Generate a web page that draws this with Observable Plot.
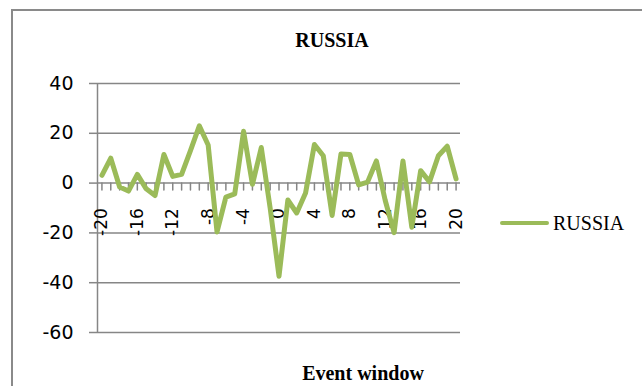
<!DOCTYPE html>
<html>
<head>
<meta charset="utf-8">
<script src="https://cdn.jsdelivr.net/npm/d3@7"></script>
<script src="https://cdn.jsdelivr.net/npm/@observablehq/plot@0.6"></script>
<style>
  html, body { margin: 0; padding: 0; background: #fff; }
  #wrap { position: relative; width: 642px; height: 386px; overflow: hidden; background: #fff; }
  #border { position: absolute; left: 11px; top: 9px; width: 700px; height: 500px;
            border-left: 2px solid #8a8a8a; border-top: 2px solid #8a8a8a; box-sizing: border-box; }
  .lbl { position: absolute; white-space: nowrap; font-family: "Liberation Serif", "Times New Roman", serif; font-size: 20px; color: #000; line-height: 1; }
  #chart { position: absolute; left: 0; top: 0; }
</style>
</head>
<body>
<div id="wrap">
  <div id="border"></div>
  <div id="chart"></div>
  <div class="lbl" id="title" style="font-weight:bold;"></div>
  <div class="lbl" id="xlabel" style="font-weight:bold;"></div>
  <div id="legendLine" style="position:absolute;left:500px;top:221px;width:49px;height:4px;background:#9BBB59;border-radius:2px;"></div>
  <div class="lbl" id="legendText"></div>
</div>
<script>
const titleText = "RUSSIA";
const xTitle = "Event window";
const seriesName = "RUSSIA";
const eventWindow = [-20,-19,-18,-17,-16,-15,-14,-13,-12,-11,-10,-9,-8,-7,-6,-5,-4,-3,-2,-1,0,1,2,3,4,5,6,7,8,9,10,11,12,13,14,15,16,17,18,19,20];
const russia = [3.1,10,-1.6,-3.2,3.5,-2.3,-5,11.5,2.7,3.5,13,23,15.3,-19.6,-5.6,-4.3,20.8,-0.5,14.3,-10,-37.4,-6.8,-12,-4,15.5,11,-13,11.7,11.5,-0.7,0.4,8.9,-7,-19.9,8.9,-17.7,5.0,0.5,11,14.8,1.7];
const yTicks = [-60,-40,-20,0,20,40];
const xTickLabels = [-20,-16,-12,-8,-4,0,4,8,12,16,20];

const data = eventWindow.map((w, i) => ({w, v: russia[i]}));
const xDomain = [d3.min(eventWindow) - 0.5, d3.max(eventWindow) + 0.5];
const grey = "#868686";

const tickShape = { draw(context, l) { context.moveTo(0, 0); context.lineTo(0, -l); } };

const plot = Plot.plot({
  width: 642,
  height: 386,
  marginLeft: 97,
  marginRight: 182,
  marginTop: 83,
  marginBottom: 54,
  style: { fontFamily: "DejaVu Sans", background: "transparent" },
  x: { domain: xDomain, axis: null },
  y: { domain: [-60, 40], axis: null },
  marks: [
    Plot.gridY(yTicks, { stroke: grey, strokeOpacity: 1, strokeWidth: 1.5 }),
    Plot.axisY(yTicks, { tickSize: 8, tickPadding: 16, stroke: grey, strokeWidth: 1.5, fill: "#000", fontSize: 19, label: null, tickFormat: d => String(d) }),
    Plot.ruleX([xDomain[0]], { stroke: grey, strokeWidth: 1.5 }),
    Plot.vector(eventWindow, { x: d => d, y: 0, length: 7, rotate: 180, anchor: "start", shape: tickShape, stroke: grey, strokeWidth: 1.5 }),
    Plot.text(xTickLabels, { x: d => d, y: 0, text: d => String(d), rotate: -90, textAnchor: "end", dy: 25, fontSize: 17, fill: "#000" }),
    Plot.line(data, { x: "w", y: "v", stroke: "#9BBB59", strokeWidth: 5, strokeLinejoin: "round", strokeLinecap: "round" })
  ]
});
document.getElementById("chart").appendChild(plot);

function place(id, text, x, y, anchor) {
  const el = document.getElementById(id);
  el.textContent = text;
  el.style.top = "0px"; el.style.left = "0px";
  const r = el.getBoundingClientRect();
  const left = anchor === "middle" ? x - r.width / 2 : x;
  el.style.left = left + "px";
  el.style.top = (y - r.height / 2) + "px";
}
place("title", titleText, 332, 40, "middle");
place("xlabel", xTitle, 363, 373, "middle");
place("legendText", seriesName, 553, 223, "start");
</script>
</body>
</html>
